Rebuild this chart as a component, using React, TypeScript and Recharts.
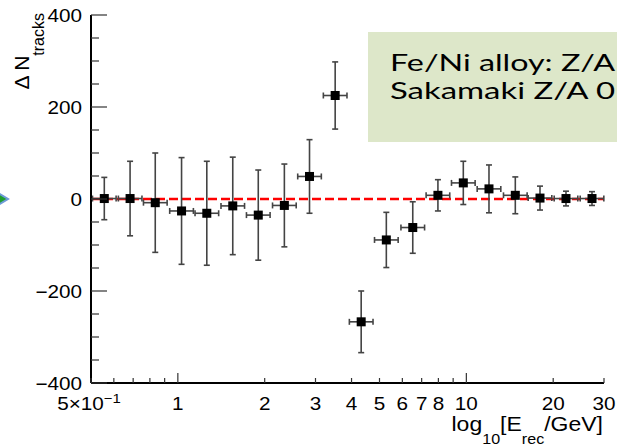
import React from 'react';
import { ScatterChart, Scatter, XAxis, YAxis, ErrorBar, ReferenceLine } from 'recharts';

// Reconstructed energy (GeV), bin centres
const energies = [0.556, 0.683, 0.835, 1.03, 1.26, 1.55, 1.9, 2.34, 2.86, 3.51, 4.32, 5.28, 6.52, 7.97, 9.76, 11.98, 14.78, 18.0, 22.15, 27.26];
// horizontal error bar edges
const energyLow = [0.506, 0.622, 0.76, 0.937, 1.147, 1.411, 1.729, 2.129, 2.603, 3.194, 3.931, 4.805, 5.933, 7.253, 8.882, 10.902, 13.45, 16.38, 20.16, 24.81];
const energyHigh = [0.611, 0.751, 0.918, 1.132, 1.385, 1.703, 2.088, 2.572, 3.143, 3.857, 4.748, 5.803, 7.165, 8.759, 10.726, 13.166, 16.243, 19.78, 24.34, 29.96];
// Delta N_tracks and its error
const deltaTracks = [1, 1, -8, -26, -31, -15, -35, -14, 49, 225, -267, -89, -62, 8, 35, 22, 8, 2, 1, 1];
const deltaErr = [46, 81, 108, 116, 113, 106, 98, 90, 80, 73, 67, 60, 56, 34, 47, 52, 40, 26, 16, 15];

const xTicks = [0.5, 0.6, 0.7, 0.8, 0.9, 1, 2, 3, 4, 5, 6, 7, 8, 9, 10, 20, 30];
const xTickLabels: Record<string, string> = { '1': '1', '2': '2', '3': '3', '4': '4', '5': '5', '6': '6', '7': '7', '8': '8', '10': '10', '20': '20', '30': '30' };
const xMajorTicks = [1, 10];
const yTicks = [-400, -350, -300, -250, -200, -150, -100, -50, 0, 50, 100, 150, 200, 250, 300, 350, 400];
const yTickLabels: Record<string, string> = { '-400': '\u2212400', '-200': '\u2212200', '0': '0', '200': '200', '400': '400' };

const boxLine1 = 'Fe/Ni alloy: Z/A';
const boxLine2 = 'Sakamaki Z/A 0';

const data = energies.map((x, i) => ({
  x,
  y: deltaTracks[i],
  xErr: [x - energyLow[i], energyHigh[i] - x],
  yErr: deltaErr[i],
}));

const FONT = '"Liberation Sans", Arial, Helvetica, sans-serif';
const TICK_STROKE = '#333';
const SX = 1.15;

const BottomTick = (props: any) => {
  const { x, y, payload } = props;
  const v = payload.value;
  const len = xMajorTicks.includes(v) ? 10 : 5;
  const lbl = xTickLabels[String(v)];
  return (
    <g>
      <line x1={x} y1={y} x2={x} y2={y - len} stroke={TICK_STROKE} strokeWidth={1.2} />
      {v === 0.5 ? (
        <g transform={`translate(${x - 2},${y + 27}) scale(${SX},1)`}>
          <text textAnchor="middle" fontSize={18} fontFamily={FONT} fill="#000">
            5×10<tspan dy={-7} fontSize={13}>{'\u22121'}</tspan>
          </text>
        </g>
      ) : lbl ? (
        <g transform={`translate(${x},${y + 27}) scale(${SX},1)`}>
          <text textAnchor="middle" fontSize={18} fontFamily={FONT} fill="#000">{lbl}</text>
        </g>
      ) : null}
    </g>
  );
};

const TopTick = (props: any) => {
  const { x, y, payload } = props;
  const len = xMajorTicks.includes(payload.value) ? 10 : 5;
  return <line x1={x} y1={y} x2={x} y2={y + len} stroke={TICK_STROKE} strokeWidth={1.2} />;
};

const LeftTick = (props: any) => {
  const { x, y, payload } = props;
  const v = payload.value;
  const major = v % 200 === 0;
  const len = major ? 16 : 8;
  const lbl = yTickLabels[String(v)];
  return (
    <g>
      <line x1={x} y1={y} x2={x + len} y2={y} stroke={TICK_STROKE} strokeWidth={1.2} />
      {lbl ? (
        <g transform={`translate(${x - 9},${y + 6.5}) scale(${SX},1)`}>
          <text textAnchor="end" fontSize={18} fontFamily={FONT} fill="#000">{lbl}</text>
        </g>
      ) : null}
    </g>
  );
};

const RightTick = (props: any) => {
  const { x, y, payload } = props;
  const major = payload.value % 200 === 0;
  const len = major ? 16 : 8;
  return <line x1={x} y1={y} x2={x - len} y2={y} stroke={TICK_STROKE} strokeWidth={1.2} />;
};

const Marker = (props: any) => {
  const { cx, cy } = props;
  if (cx == null || cy == null) return null;
  return <rect x={cx - 4.5} y={cy - 4.5} width={9} height={9} fill="#000" />;
};

export default function App() {
  return (
    <div style={{ position: 'absolute', left: 0, top: 0, width: 617, height: 446, overflow: 'hidden', background: '#fff' }}>
      <ScatterChart width={617} height={446} margin={{ top: 15, right: 13, bottom: 0, left: 0 }}>
        <XAxis
          xAxisId={0}
          type="number"
          dataKey="x"
          scale="log"
          domain={[0.5, 30]}
          allowDataOverflow
          ticks={xTicks}
          interval={0}
          height={63}
          tickSize={0}
          tickMargin={0}
          tickLine={false}
          axisLine={{ stroke: '#000', strokeWidth: 2 }}
          tick={<BottomTick />}
        />
        <XAxis
          xAxisId="top"
          orientation="top"
          type="number"
          scale="log"
          domain={[0.5, 30]}
          allowDataOverflow
          ticks={xTicks}
          interval={0}
          height={0}
          tickSize={0}
          tickMargin={0}
          tickLine={false}
          axisLine={{ stroke: '#000', strokeWidth: 2 }}
          tick={<TopTick />}
        />
        <YAxis
          yAxisId={0}
          type="number"
          dataKey="y"
          domain={[-400, 400]}
          allowDataOverflow
          ticks={yTicks}
          interval={0}
          width={91}
          tickSize={0}
          tickMargin={0}
          tickLine={false}
          axisLine={{ stroke: '#000', strokeWidth: 2 }}
          tick={<LeftTick />}
        />
        <YAxis
          yAxisId="right"
          orientation="right"
          type="number"
          domain={[-400, 400]}
          allowDataOverflow
          ticks={yTicks}
          interval={0}
          width={0}
          tickSize={0}
          tickMargin={0}
          tickLine={false}
          axisLine={{ stroke: '#000', strokeWidth: 2 }}
          tick={<RightTick />}
        />
        <ReferenceLine y={0} xAxisId={0} yAxisId={0} stroke="#ff0000" strokeWidth={2.5} strokeDasharray="9 4" />
        <Scatter data={data} xAxisId={0} yAxisId={0} dataKey="y" shape={<Marker />} isAnimationActive={false}>
          <ErrorBar dataKey="yErr" direction="y" width={3} stroke="#444" strokeWidth={1.6} isAnimationActive={false} />
          <ErrorBar dataKey="xErr" direction="x" width={3} stroke="#444" strokeWidth={1.6} isAnimationActive={false} />
        </Scatter>
      </ScatterChart>
      <svg width={617} height={446} style={{ position: 'absolute', left: 0, top: 0, pointerEvents: 'none' }}>
        {/* y-axis title */}
        <g transform="translate(29,13) rotate(-90)">
          <text textAnchor="end" fontSize={21} fontFamily={FONT} fill="#000">
            {'\u0394 N'}<tspan dy={14.5} fontSize={16}>tracks</tspan>
          </text>
        </g>
        {/* x-axis title */}
        <g transform={`translate(603,431) scale(${SX},1)`}>
          <text textAnchor="end" fontSize={20} fontFamily={FONT} fill="#000">
            log<tspan dy={13} fontSize={14}>10</tspan><tspan dy={-13}>[E</tspan><tspan dy={13} fontSize={14}>rec</tspan><tspan dy={-13}>/GeV]</tspan>
          </text>
        </g>
        {/* annotation box */}
        <rect x={368} y={32} width={260} height={110} fill="#dde7c9" />
        <text x={390} y={71} fontSize={23} fontFamily="Lato, 'Open Sans', sans-serif" fill="#000" textLength={225} lengthAdjust="spacingAndGlyphs">{boxLine1}</text>
        <text x={390} y={99} fontSize={23} fontFamily="Lato, 'Open Sans', sans-serif" fill="#000" textLength={225} lengthAdjust="spacingAndGlyphs">{boxLine2}</text>
        {/* arrow tip on the left edge */}
        <polygon points="-12,187 8,199 -12,211" fill="#1f9e2e" stroke="#6f9bd8" strokeWidth={2} />
      </svg>
    </div>
  );
}
